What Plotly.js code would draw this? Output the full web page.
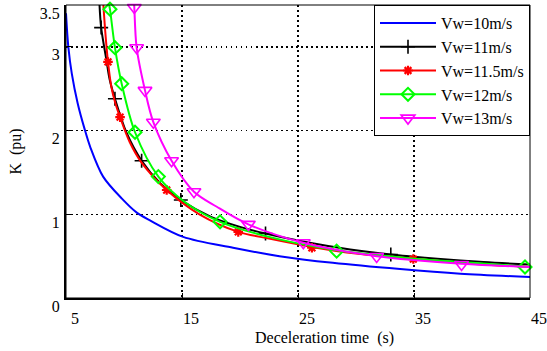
<!DOCTYPE html>
<html>
<head>
<meta charset="utf-8">
<script src="https://cdn.plot.ly/plotly-3.0.1.min.js"></script>
<style>
  html, body { margin: 0; padding: 0; background: #ffffff; }
  #chart { width: 547px; height: 351px; }
</style>
</head>
<body>
<div id="chart"></div>
<script>
// ---- data ----
var seriesNames = ["Vw=10m/s", "Vw=11m/s", "Vw=11.5m/s", "Vw=12m/s", "Vw=13m/s"];

// Vw = 10 m/s (line only)
var t10 = [5.0, 5.2, 5.5, 6.0, 6.6, 7.1, 8.2, 9.8, 11.1, 12.2, 15.1, 19.4, 23.4, 28.0, 33.8, 39.0, 45.0];
var k10 = [3.40, 3.00, 2.68, 2.33, 2.02, 1.80, 1.45, 1.19, 1.02, 0.93, 0.73, 0.60, 0.50, 0.42, 0.345, 0.29, 0.25];

// Vw = 11 m/s
var t11 = [7.89, 8.03, 8.5, 8.75, 9.22, 10.2, 11.52, 13.2, 14.9, 17.5, 20.0, 22.2, 26.0, 29.5, 33.0, 37.0, 41.0, 45.0];
var k11 = [3.50, 3.23, 2.83, 2.62, 2.38, 1.98, 1.64, 1.36, 1.17, 0.97, 0.85, 0.77, 0.66, 0.58, 0.52, 0.47, 0.43, 0.40];
var t11m = [8.03, 9.22, 11.52, 14.9, 22.2, 33.0];
var k11m = [3.23, 2.38, 1.64, 1.17, 0.77, 0.52];

// Vw = 11.5 m/s
var t115 = [8.22, 8.42, 8.62, 8.9, 9.25, 9.66, 10.5, 11.5, 13.68, 16.5, 19.85, 22.5, 26.2, 30.0, 34.94, 40.0, 45.0];
var k115 = [3.50, 3.12, 2.82, 2.53, 2.33, 2.16, 1.86, 1.62, 1.29, 1.00, 0.79, 0.71, 0.61, 0.53, 0.47, 0.41, 0.37];
var t115m = [8.62, 9.66, 13.68, 19.85, 26.2, 34.94];
var k115m = [2.82, 2.16, 1.29, 0.79, 0.60, 0.465];

// Vw = 12 m/s
var t12 = [8.72, 8.79, 9.22, 9.80, 10.95, 12.96, 15.2, 18.28, 22.5, 28.33, 35.0, 40.0, 45.0];
var k12 = [3.50, 3.45, 2.99, 2.56, 1.98, 1.45, 1.15, 0.91, 0.73, 0.57, 0.47, 0.42, 0.37];
var t12m = [8.79, 9.22, 9.80, 10.95, 12.96, 18.28, 28.33, 44.57];
var k12m = [3.45, 2.99, 2.56, 1.98, 1.45, 0.91, 0.56, 0.37];

// Vw = 13 m/s
var t13 = [10.87, 10.89, 11.09, 11.81, 12.53, 14.1, 16.03, 18.0, 20.72, 25.46, 31.78, 39.1, 45.0];
var k13 = [3.52, 3.47, 2.99, 2.48, 2.10, 1.64, 1.27, 1.09, 0.88, 0.66, 0.50, 0.41, 0.37];
var t13m = [10.89, 11.09, 11.81, 12.53, 14.1, 16.03, 20.72, 25.46, 31.78, 39.1];
var k13m = [3.47, 2.99, 2.48, 2.10, 1.64, 1.27, 0.88, 0.66, 0.495, 0.40];

var xTickVals = [5, 15, 25, 35, 45];
var xTickText = ["5", "15", "25", "35", "45"];
var yTickVals = [0, 1, 2, 3, 3.5];
var yTickText = ["0", "1", "2", "3", "3.5"];

// ---- styles ----
var colors = ["#0000ff", "#000000", "#ff0000", "#00ff00", "#ff00ff"];
var symbols = [null, "cross-thin-open", "asterisk-open", "diamond-open", "triangle-down-open"];
var msizes = [0, 10, 8, 10, 12];
var mlw = [0, 1.6, 2.2, 2, 1.6];
var FONT = "'Liberation Serif', 'Times New Roman', serif";

var curves = [[t10, k10], [t11, k11], [t115, k115], [t12, k12], [t13, k13]];
var marks = [null, [t11m, k11m], [t115m, k115m], [t12m, k12m], [t13m, k13m]];

var traces = [];
for (var i = 0; i < curves.length; i++) {
  traces.push({
    type: "scatter", mode: "lines", x: curves[i][0], y: curves[i][1],
    line: {color: colors[i], width: 2, shape: "spline", smoothing: 0.9},
    showlegend: false, hoverinfo: "skip"
  });
  if (marks[i]) {
    traces.push({
      type: "scatter", mode: "markers", x: marks[i][0], y: marks[i][1],
      cliponaxis: false,
      marker: {symbol: symbols[i], size: msizes[i], color: colors[i],
               line: {color: colors[i], width: mlw[i]}},
      showlegend: false, hoverinfo: "skip"
    });
  }
}
// legend entries
for (var j = 0; j < seriesNames.length; j++) {
  var tr = {
    type: "scatter", x: [null], y: [null], name: seriesNames[j],
    mode: marks[j] ? "lines+markers" : "lines",
    line: {color: colors[j], width: 2}
  };
  if (marks[j]) {
    tr.marker = {symbol: symbols[j], size: msizes[j], color: colors[j],
                 line: {color: colors[j], width: mlw[j]}};
  }
  traces.push(tr);
}

var gridDash = "1.5px,3.5px";
var layout = {
  width: 547, height: 351,
  margin: {l: 66, r: 17, t: 5, b: 53},
  paper_bgcolor: "#ffffff", plot_bgcolor: "#ffffff",
  font: {family: FONT, size: 16, color: "#000000"},
  showlegend: true,
  xaxis: {
    range: [5, 45], tickmode: "array", tickvals: xTickVals, ticktext: xTickText,
    showgrid: true, gridcolor: "#000000", gridwidth: 1.3, griddash: gridDash,
    zeroline: false, showline: true, linecolor: "#000000", linewidth: 2,
    ticks: "inside", ticklen: 5, tickwidth: 1, tickcolor: "#000000",
    tickfont: {family: FONT, size: 16, color: "#000000"},
    ticklabelshift: 9, ticklabelstandoff: 5
  },
  yaxis: {
    range: [0, 3.5], tickmode: "array", tickvals: yTickVals, ticktext: yTickText,
    showgrid: true, gridcolor: "#000000", gridwidth: 1.3, griddash: gridDash,
    zeroline: false, showline: true, linecolor: "#000000", linewidth: 2,
    ticks: "inside", ticklen: 5, tickwidth: 1, tickcolor: "#000000",
    tickfont: {family: FONT, size: 16, color: "#000000"},
    ticklabelshift: 8, ticklabelstandoff: 1,
    title: {text: "K\u00a0\u00a0(pu)", font: {family: FONT, size: 16, color: "#000000"}, standoff: 14}
  },
  legend: {
    x: 1, xanchor: "right", y: 1, yanchor: "top",
    bgcolor: "#ffffff", bordercolor: "#000000", borderwidth: 1,
    font: {family: FONT, size: 16, color: "#000000"},
    itemwidth: 56, tracegroupgap: 0
  },
  shapes: [{
    type: "rect", xref: "paper", yref: "paper", x0: 0, x1: 1, y0: 0, y1: 1,
    line: {color: "#000000", width: 1}, fillcolor: "rgba(0,0,0,0)", layer: "above"
  }],
  annotations: [{
    text: "Deceleration time\u00a0\u00a0(s)", xref: "paper", yref: "paper",
    x: 0.558, y: -0.137, xanchor: "center", yanchor: "middle", showarrow: false,
    font: {family: FONT, size: 16, color: "#000000"}
  }]
};

Plotly.newPlot("chart", traces, layout, {displayModeBar: false, staticPlot: true});
</script>
</body>
</html>
